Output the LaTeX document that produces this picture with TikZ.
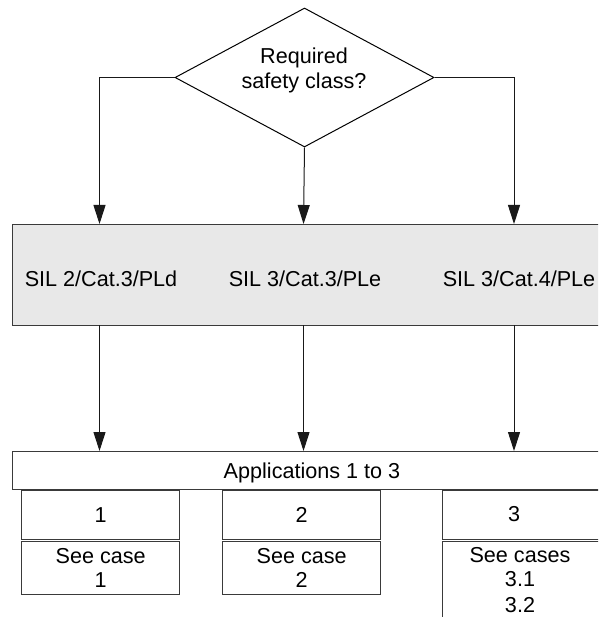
\documentclass[tikz,border=0pt]{standalone}
\usepackage{fontspec}
\setmainfont{Liberation Sans}
\usetikzlibrary{shapes.geometric,arrows.meta}
\definecolor{boxgray}{HTML}{E8E8E8}
\definecolor{edge}{HTML}{3A3A3A}
\tikzset{
  txt/.style={font=\fontsize{21.6}{24}\selectfont, inner sep=0pt, align=center},
  boxline/.style={draw=edge, line width=1.3pt},
  conn/.style={draw=black!90, line width=1pt},
  arr/.style={conn, -{Triangle[length=19pt,width=12pt]}},
}
\begin{document}
\begin{tikzpicture}[x=1pt,y=1pt]
\useasboundingbox (0,0) rectangle (598,-617);
\begin{scope}
\clip (0,0) rectangle (598,-617);
% decision diamond
\node[diamond, draw=black, line width=1pt, minimum width=259pt, minimum height=139pt, aspect=1.863, inner sep=0pt] (q) at (304.5,-77.5) {};
\node[txt, font=\fontsize{21.6}{25}\selectfont] (qt) at (304,-70) {Required\\safety class?};
% gray class box
\node[boxline, fill=boxgray, anchor=north west, minimum width=640pt, minimum height=101pt, inner sep=0pt] (cls) at (12,-224) {};
\node[txt, anchor=base] (s1) at (101,-286) {SIL 2/Cat.3/PLd};
\node[txt, anchor=base] (s2) at (305,-286) {SIL 3/Cat.3/PLe};
\node[txt, anchor=base] (s3) at (519,-286) {SIL 3/Cat.4/PLe};
% targets on the class box
\coordinate (c1) at (99.5,-224);
\coordinate (c2) at (303.5,-224);
\coordinate (c3) at (514,-224);
\coordinate (d1) at (99.5,-325);
\coordinate (d2) at (303.5,-325);
\coordinate (d3) at (514,-325);
% applications box
\node[boxline, fill=white, anchor=north west, minimum width=640pt, minimum height=38pt, inner sep=0pt] (app) at (12,-451) {};
\node[txt, anchor=base] (appt) at (312,-478) {Applications 1 to 3};
\coordinate (a1) at (99.5,-451);
\coordinate (a2) at (303.5,-451);
\coordinate (a3) at (514,-451);
% application boxes
\node[boxline, txt, anchor=north west, minimum width=158pt, minimum height=49pt] (b1) at (21,-490) {1};
\node[boxline, txt, anchor=north west, minimum width=158pt, minimum height=53pt] (e1) at (21,-541) {See case\\1};
\node[boxline, txt, anchor=north west, minimum width=158pt, minimum height=49pt] (b2) at (222,-490) {2};
\node[boxline, txt, anchor=north west, minimum width=158pt, minimum height=53pt] (e2) at (222,-541) {See case\\2};
\node[boxline, anchor=north west, minimum width=250pt, minimum height=49pt, inner sep=0pt] (b3) at (442,-490) {};
\node[txt] (b3t) at (514,-514.5) {3};
\node[boxline, anchor=north west, minimum width=250pt, minimum height=120pt, inner sep=0pt] (e3) at (442,-541) {};
\node[txt] (e3t) at (520,-580.3) {See cases\\3.1\\[2pt]3.2};
% connectors
\draw[arr] (q.west) -| (c1);
\draw[arr] (q.south) -- (c2);
\draw[arr] (q.east) -| (c3);
\draw[arr] (d1) -- (a1);
\draw[arr] (d2) -- (a2);
\draw[arr] (d3) -- (a3);
\end{scope}
\end{tikzpicture}
\end{document}
